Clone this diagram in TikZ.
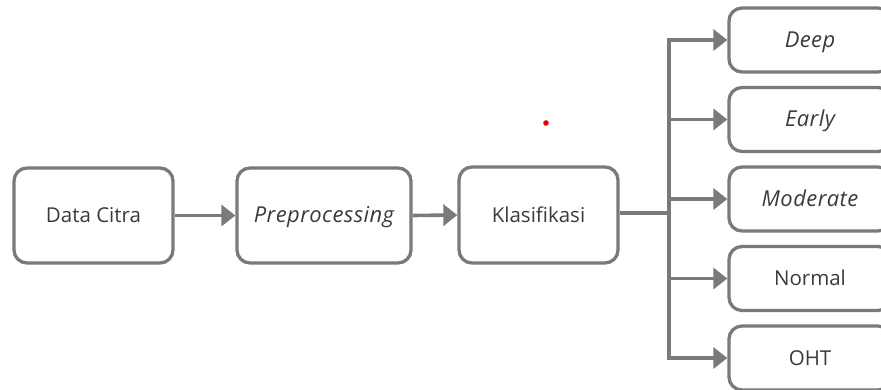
\documentclass[tikz,border=0pt]{standalone}
\usepackage{fontspec}
\setmainfont{Open Sans}[ItalicFeatures={Scale=1.07,LetterSpace=2}]
\usetikzlibrary{arrows.meta}
\definecolor{lg}{HTML}{7A7A7A}
\definecolor{tx}{HTML}{3A3A3A}
\begin{document}
\begin{tikzpicture}[x=1pt,y=-1pt,
  box/.style={draw=lg,line width=3.3pt,rounded corners=13pt,inner sep=0pt,text=tx,font=\fontsize{20.5}{24}\selectfont,text height=14.6pt,text depth=0pt},
  conn/.style={draw=lg,line width=3.6pt},
  arr/.style={conn,-{Triangle[length=14pt,width=21pt]}}]
\useasboundingbox (0,0) rectangle (881,389);
\begin{scope}
\clip (0,0) rectangle (881,389);
\node[box,minimum width=159pt,minimum height=95pt] (dc) at (93.5,215.5) {Data Citra};
\node[box,minimum width=174pt,minimum height=95pt] (pp) at (324,215.5) {\itshape Preprocessing};
\node[box,minimum width=159pt,minimum height=96pt] (kl) at (538.5,215) {Klasifikasi};
\node[box,minimum width=162pt,minimum height=64pt] (deep) at (810,40) {\itshape Deep};
\node[box,minimum width=162pt,minimum height=64pt] (early) at (810,119.5) {\itshape Early};
\node[box,minimum width=162pt,minimum height=64pt] (mod) at (810,199) {\itshape Moderate};
\node[box,minimum width=162pt,minimum height=64pt] (norm) at (810,278.5) {Normal};
\node[box,minimum width=162pt,minimum height=64pt] (oht) at (810,358) {OHT};
\end{scope}
\coordinate (tt) at (669,40);
\coordinate (tb) at (669,358);
\coordinate (tm) at (669,213);
\draw[arr] (dc.east) -- (pp.west);
\draw[arr] (pp.east) -- (kl.west);
\draw[conn] (kl.east |- tm) -- (tm);
\draw[conn,line cap=rect] (tt) -- (tb);
\draw[arr] (tt) -- (deep.west);
\draw[arr] (tt |- early.west) -- (early.west);
\draw[arr] (tt |- mod.west) -- (mod.west);
\draw[arr] (tt |- norm.west) -- (norm.west);
\draw[arr] (tb) -- (oht.west);
\fill[red!90!black] (546,123) circle (2.8pt);
\end{tikzpicture}
\end{document}
